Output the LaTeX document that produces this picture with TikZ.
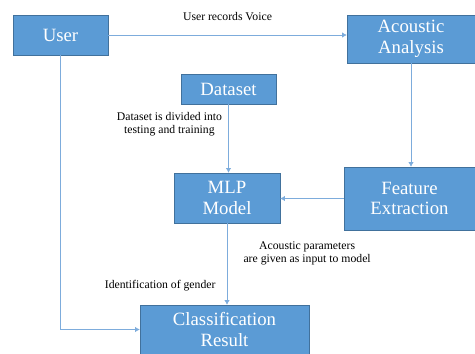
\documentclass[tikz,border=0pt]{standalone}
\usepackage{fontspec}
\setmainfont{Liberation Serif}
\usepackage{tikz}
\usetikzlibrary{
        positioning,
        arrows.meta
    }
\definecolor{boxblue}{RGB}{91,155,213}
\definecolor{boxedge}{RGB}{65,113,156}
\definecolor{lineblue}{RGB}{125,172,220}

\begin{document}
\begin{tikzpicture}
[baseshape/.style={rectangle, text centered, align=center, font=\fontsize{16}{17.5}\selectfont, text=white, draw=boxedge, fill=boxblue, inner sep=0pt},
block/.style={baseshape},
note/.style={font=\fontsize{10}{10.5}\selectfont, align=center, text=black, inner sep=1pt},
arrow/.style={lineblue, semithick, -{Latex[length=1.4mm,width=1.6mm]}},]
\useasboundingbox (0,0) rectangle (14.25,-10.62);

\node (user) [block, minimum width=2.85cm, minimum height=1.2cm] at (1.815,-1.05) {User};
\node (acoustic) [block, minimum width=3.84cm, minimum height=1.44cm] at (12.33,-1.17) {Acoustic\\Analysis};
\node (dataset) [block, minimum width=2.85cm, minimum height=0.9cm] at (6.855,-2.67) {Dataset};
\node (mlp) [block, minimum width=3.18cm, minimum height=1.5cm] at (6.81,-5.94) {MLP\\Model};
\node (feature) [block, minimum width=3.93cm, minimum height=1.89cm] at (12.285,-5.955) {Feature\\Extraction};
\node (result) [block, minimum width=5.07cm, minimum height=1.47cm] at (6.735,-9.885) {Classification\\Result};

\draw[arrow] (user.east) -- node[note, above=0.38cm]{User records Voice}(user.east -| acoustic.west);
\draw[arrow] (dataset) -- node[note, pos=0.29, left=0.15cm]{Dataset is divided into\\testing and training}(dataset |- mlp.north);
\draw[arrow] (acoustic) -- (acoustic |- feature.north);
\draw[arrow] (feature.west) -- (feature.west -| mlp.east);
\draw[arrow] (mlp) -- node[note, pos=0.37, right=0.45cm]{Acoustic parameters\\are given as input to model}
    node[note, pos=0.77, left=0.3cm]{Identification of gender}(mlp |- result.north);
\draw[arrow] (user.south) |- (result.west);

\end{tikzpicture}
\end{document}
